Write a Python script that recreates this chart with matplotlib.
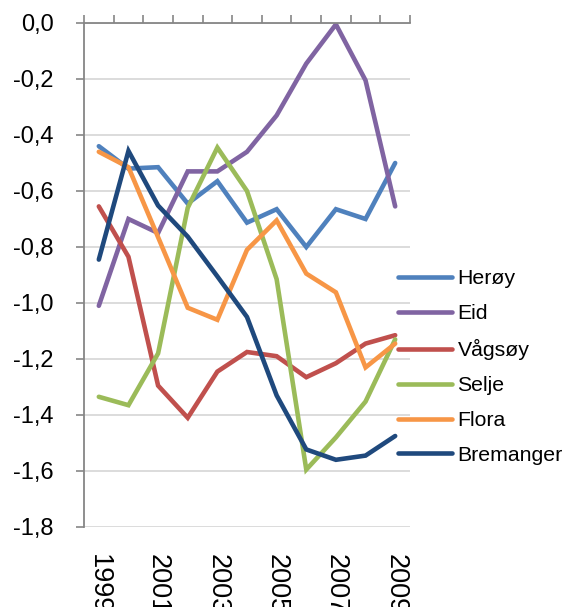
import matplotlib
matplotlib.use("Agg")
import matplotlib.pyplot as plt
import numpy as np

plt.rcParams["font.family"] = ["Liberation Sans", "DejaVu Sans"]

years = [1999, 2000, 2001, 2002, 2003, 2004, 2005, 2006, 2007, 2008, 2009]
heroy = [-0.44, -0.52, -0.515, -0.645, -0.565, -0.713, -0.665, -0.80, -0.665, -0.70, -0.50]
eid = [-1.01, -0.70, -0.75, -0.53, -0.53, -0.46, -0.33, -0.145, -0.005, -0.205, -0.655]
vagsoy = [-0.655, -0.835, -1.295, -1.41, -1.245, -1.175, -1.19, -1.265, -1.215, -1.145, -1.115]
selje = [-1.335, -1.365, -1.18, -0.66, -0.445, -0.60, -0.915, -1.595, -1.48, -1.352, -1.13]
flora = [-0.46, -0.515, -0.765, -1.017, -1.06, -0.81, -0.705, -0.895, -0.962, -1.23, -1.145]
bremanger = [-0.845, -0.457, -0.652, -0.763, -0.905, -1.05, -1.33, -1.523, -1.56, -1.545, -1.475]

series = [
    ("Herøy", heroy, "#4F81BD"),
    ("Eid", eid, "#8064A2"),
    ("Vågsøy", vagsoy, "#C0504D"),
    ("Selje", selje, "#9BBB59"),
    ("Flora", flora, "#F79646"),
    ("Bremanger", bremanger, "#1F497D"),
]

W, H = 565, 607
fig = plt.figure(figsize=(W / 100, H / 100), dpi=100)
ax = fig.add_axes([84 / W, 1 - 527 / H, (410 - 84) / W, (527 - 23) / H])

x = np.arange(len(years))
for name, vals, color in series:
    ax.plot(x, vals, color=color, linewidth=3.3, label=name,
            solid_capstyle="round", solid_joinstyle="miter")

ax.set_xlim(-0.5, len(years) - 0.5)
ax.set_ylim(-1.8, 0.0)
yt = np.round(np.arange(-1.8, 0.01, 0.2), 1)
ax.set_yticks(yt)
ax.set_yticklabels([f"{v:.1f}".replace(".", ",").replace("-0,0", "0,0") for v in yt],
                   fontsize=17)
ax.yaxis.grid(True, color="#D9D9D9", linewidth=1.3)
ax.set_axisbelow(True)

# category boundary ticks on the top axis line (axis crosses at 0)
ax.xaxis.tick_top()
ax.set_xticks(np.arange(-0.5, len(years), 1.0))
ax.set_xticklabels([])
ax.tick_params(axis="x", direction="out", length=5.5, width=1.2, color="#868686")
ax.tick_params(axis="y", direction="out", length=5.8, width=1.2, color="#868686", pad=16)

for side in ["right", "bottom"]:
    ax.spines[side].set_visible(False)
for side in ["left", "top"]:
    ax.spines[side].set_color("#868686")
    ax.spines[side].set_linewidth(1.3)

# year labels below the plot, every second year
for i, yr in enumerate(years):
    if i % 2 == 0:
        ax.text(i, -0.054, str(yr), transform=ax.get_xaxis_transform(),
                rotation=-90, ha="center", va="top", fontsize=19.5)

fig.legend(loc="center left", bbox_to_anchor=(398 / W, 1 - 367 / H),
           frameon=False, fontsize=15.3, handlelength=2.55, handletextpad=0.25,
           labelspacing=0.75, borderpad=0, borderaxespad=0)

fig.savefig("out.png", dpi=100)
